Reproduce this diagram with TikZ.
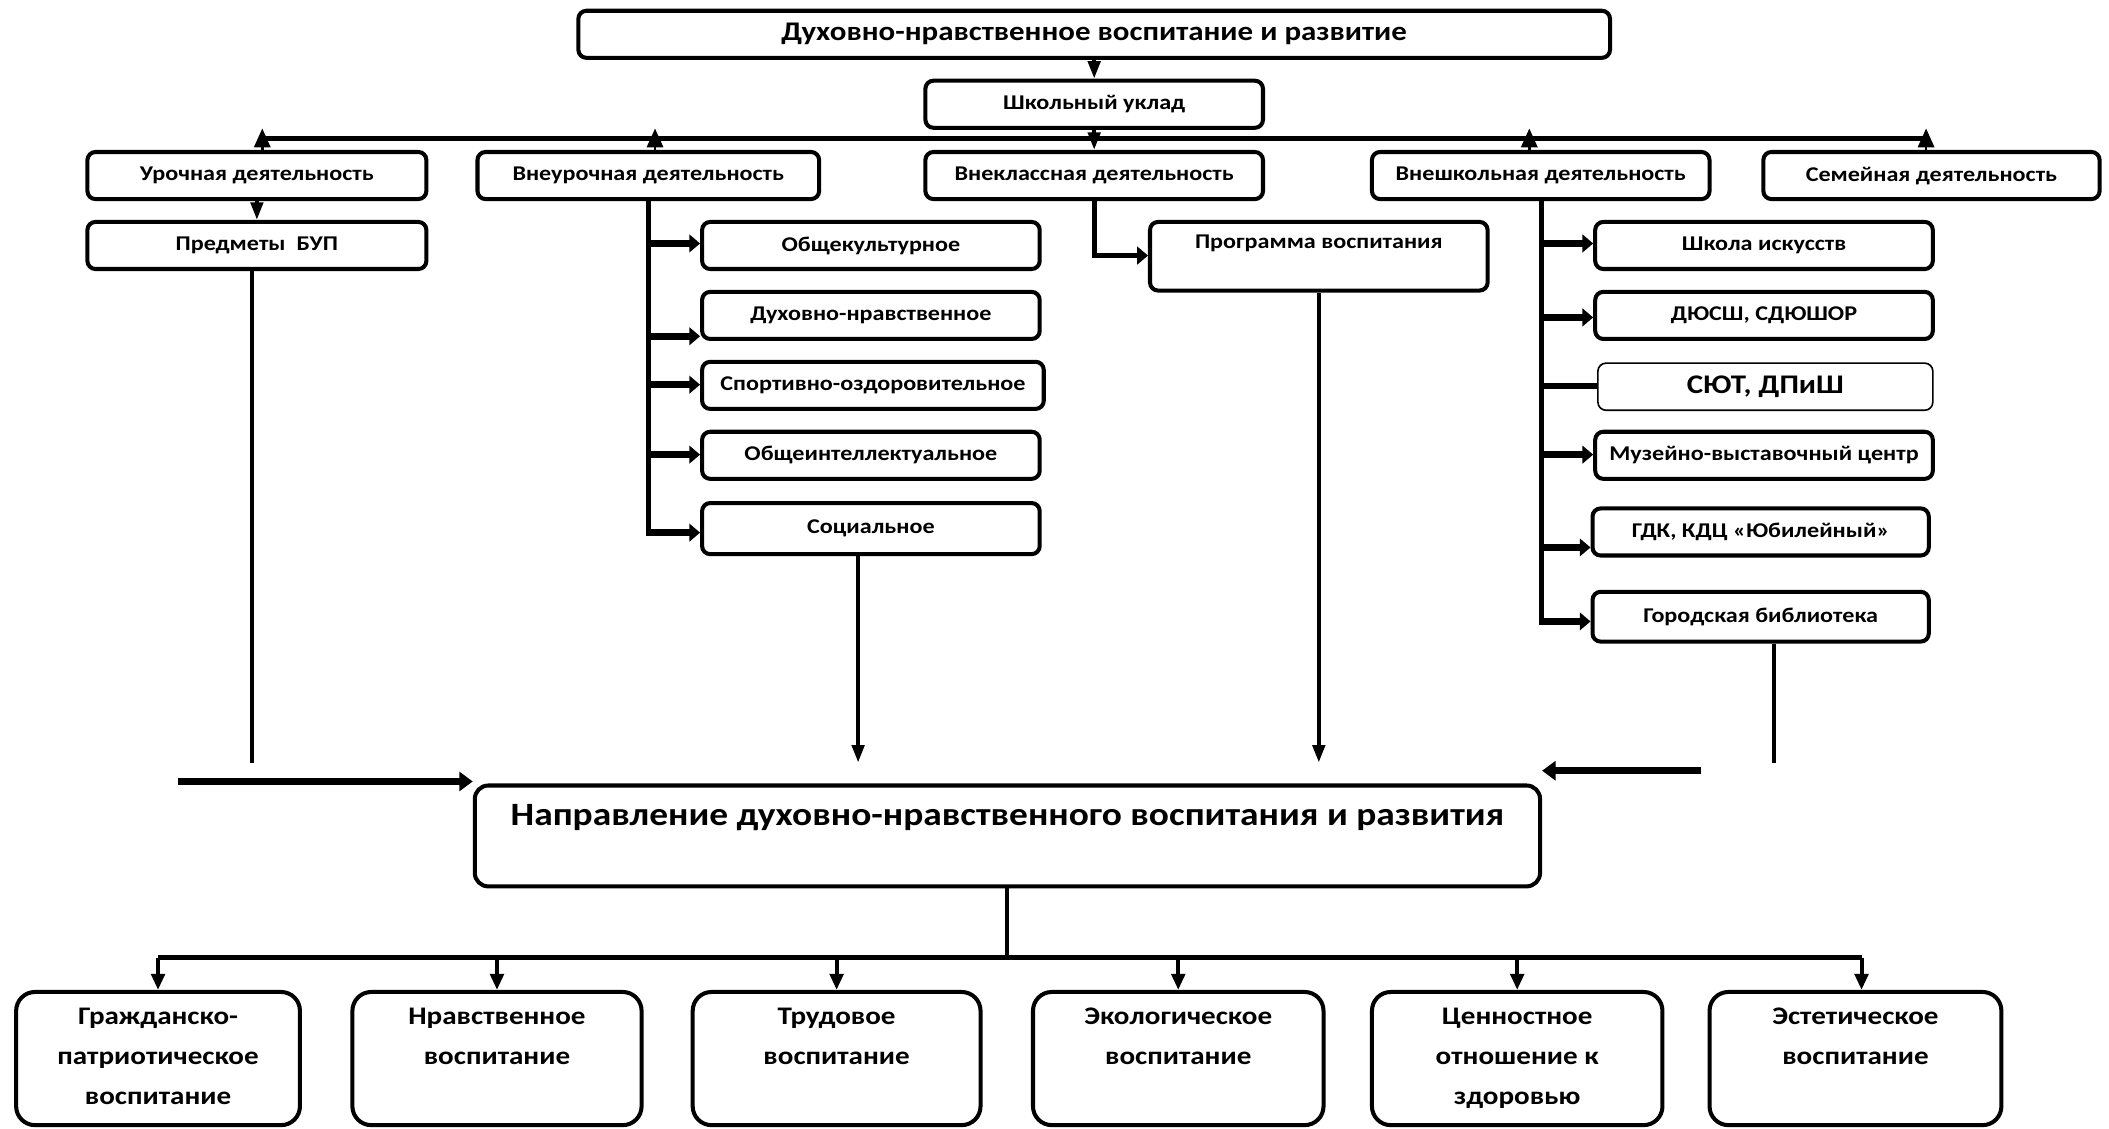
\documentclass[tikz,border=0pt]{standalone}
\usepackage{fontspec}
\setmainfont{Carlito}[FakeStretch=1.15]
\usetikzlibrary{arrows.meta}
\newcommand\fsm{\bfseries\fontsize{15.6}{19}\selectfont}
\newcommand\fti{\bfseries\fontsize{20}{23}\selectfont}
\newcommand\fbig{\bfseries\fontsize{24.2}{28}\selectfont}
\newcommand\fbot{\bfseries\fontsize{18.8}{30}\selectfont}
\newcommand\fsyut{\bfseries\fontsize{20}{23}\selectfont}
\tikzset{
  bx/.style={draw, line width=3pt, rounded corners=6pt, inner sep=1pt, font=\fsm, align=center},
  botbx/.style={bx, rounded corners=14pt, minimum height=99pt},
  toplbl/.style={anchor=north, inner sep=0pt, align=center},
  conn/.style={line width=3pt},
  tip/.style={-{Triangle[length=13pt,width=9pt]}},
  branch/.style={line width=5pt, -{Triangle[length=8pt,width=13pt]}},
  trunk/.style={line width=3.5pt},
  uptri/.style={line width=2pt, -{Triangle[length=14pt,width=12pt]}},
}
\begin{document}
\begin{tikzpicture}[x=1pt,y=-1pt]
\useasboundingbox (0,0) rectangle (1568,839);
% boxes
\node[bx, font=\fti, minimum width=767pt, minimum height=35pt] (top) at (813.5,25.5) {Духовно-нравственное воспитание и развитие};
\node[bx, minimum width=251pt, minimum height=35pt] (shk) at (813.5,77.5) {Школьный уклад};
\node[bx, minimum width=252pt, minimum height=35pt] (urok) at (191,130.5) {Урочная деятельность};
\node[bx, minimum width=254pt, minimum height=35pt] (vneur) at (482,130.5) {Внеурочная деятельность};
\node[bx, minimum width=251pt, minimum height=35pt] (vnekl) at (813.5,130.5) {Внеклассная деятельность};
\node[bx, minimum width=251pt, minimum height=35pt] (vnesh) at (1145.5,130.5) {Внешкольная деятельность};
\node[bx, minimum width=250pt, minimum height=35pt] (sem) at (1436,130.5) {Семейная деятельность};
\node[bx, minimum width=252pt, minimum height=35pt] (bup) at (191,182.5) {Предметы\ \ БУП};
% vneurochnaya children
\node[bx, minimum width=251pt, minimum height=35pt] (ok) at (647.5,182.5) {Общекультурное};
\node[bx, minimum width=251pt, minimum height=35pt] (dn) at (647.5,234.5) {Духовно-нравственное};
\node[bx, minimum width=254pt, minimum height=35pt] (so) at (649,286.5) {Спортивно-оздоровительное};
\node[bx, minimum width=251pt, minimum height=35pt] (oi) at (647.5,338.5) {Общеинтеллектуальное};
\node[bx, minimum width=251pt, minimum height=38pt] (soc) at (647.5,393) {Социальное};
% programma
\node[bx, minimum width=251pt, minimum height=51pt, label={[toplbl, font=\fsm, yshift=-11pt]north:Программа воспитания}] (prog) at (980.5,190.5) {};
% vneshkolnaya children
\node[bx, minimum width=251pt, minimum height=35pt] (shi) at (1311.5,182.5) {Школа искусств};
\node[bx, minimum width=251pt, minimum height=35pt] (dus) at (1311.5,234.5) {ДЮСШ, СДЮШОР};
\node[bx, line width=1.2pt, font=\fsyut, minimum width=249pt, minimum height=35pt] (syut) at (1312.5,287.5) {СЮТ, ДПиШ};
\node[bx, minimum width=251pt, minimum height=35pt] (muz) at (1311.5,338.5) {Музейно-выставочный центр};
\node[bx, minimum width=250pt, minimum height=35pt] (gdk) at (1309,395.5) {ГДК, КДЦ «Юбилейный»};
\node[bx, minimum width=250pt, minimum height=37pt] (bib) at (1309,458.5) {Городская библиотека};
% big box
\node[bx, rounded corners=10pt, minimum width=792pt, minimum height=75pt, label={[toplbl, font=\fbig, yshift=-15pt]north:Направление духовно-нравственного воспитания и развития}] (big) at (749,621.5) {};
% bottom boxes
\node[botbx, minimum width=211pt, label={[toplbl, font=\fbot, yshift=-13pt]north:Гражданско-\\патриотическое\\воспитание}] (b1) at (117.5,787) {};
\node[botbx, minimum width=215pt, label={[toplbl, font=\fbot, yshift=-13pt]north:Нравственное\\воспитание}] (b2) at (369.5,787) {};
\node[botbx, minimum width=214pt, label={[toplbl, font=\fbot, yshift=-13pt]north:Трудовое\\воспитание}] (b3) at (622,787) {};
\node[botbx, minimum width=216pt, label={[toplbl, font=\fbot, yshift=-13pt]north:Экологическое\\воспитание}] (b4) at (876,787) {};
\node[botbx, minimum width=216pt, label={[toplbl, font=\fbot, yshift=-13pt]north:Ценностное\\отношение к\\здоровью}] (b5) at (1128,787) {};
\node[botbx, minimum width=217pt, label={[toplbl, font=\fbot, yshift=-13pt]north:Эстетическое\\воспитание}] (b6) at (1379.5,787) {};

% top connectors
\draw[conn, tip] (top.south) -- (shk.north);
\coordinate (hL) at (195,103);
\coordinate (hR) at (1432,103);
\draw[line width=3.5pt] (hL) -- (hR);
\draw[conn, tip] (shk.south) -- (vnekl.north);
\draw[uptri] (urok.north -| hL) -- ++(0,-16);
\draw[uptri] (vneur.north -| 487,0) -- ++(0,-16);
\draw[uptri] (vnesh.north -| 1137,0) -- ++(0,-16);
\draw[uptri] (sem.north -| hR) -- ++(0,-16);
% urochnaya
\draw[conn, tip] (urok.south) -- (bup.north);
\coordinate (bupEnd) at (187,567);
\draw[conn] (bup.south -| bupEnd) -- (bupEnd);
\coordinate (inL) at (132,581);
\draw[line width=5pt, -{Triangle[length=10pt,width=14pt]}] (inL) -- (inL -| big.west);
% vneurochnaya
\coordinate (vT) at (482,398);
\draw[trunk] (vneur.south -| vT) -- (vT);
\draw[branch] (482,181) -- (ok.west |- 0,181);
\draw[branch] (482,250) -- (dn.west |- 0,250);
\draw[branch] (482,286) -- (so.west |- 0,286);
\draw[branch] (482,338) -- (oi.west |- 0,338);
\draw[branch] (480.25,396) -- (soc.west |- 0,396);
\coordinate (socEnd) at (638,567);
\draw[conn, tip] (soc.south -| socEnd) -- (socEnd);
% vneklassnaya
\draw[line width=4pt, -{Triangle[length=8pt,width=13pt]}] (vnekl.south) -- (813.5,190) -- (prog.west |- 0,190);
\coordinate (progEnd) at (980.5,567);
\draw[conn, tip] (prog.south) -- (progEnd);
% vneshkolnaya
\coordinate (wT) at (1146,464);
\draw[trunk] (vnesh.south -| wT) -- (wT);
\draw[branch] (1146,181) -- (shi.west |- 0,181);
\draw[branch] (1146,236) -- (dus.west |- 0,236);
\draw[line width=5pt] (1146,287) -- (syut.west |- 0,287);
\draw[branch] (1146,338) -- (muz.west |- 0,338);
\draw[branch] (1146,407) -- (gdk.west |- 0,407);
\draw[branch] (1144.25,462) -- (bib.west |- 0,462);
\coordinate (bibEnd) at (1319,567);
\draw[conn] (bib.south -| bibEnd) -- (bibEnd);
\coordinate (inR) at (1265,573);
\draw[line width=5pt, -{Triangle[length=10pt,width=14pt]}] (inR) -- (inR -| big.east);
% bottom distribution
\coordinate (hb) at (749,712);
\coordinate (hbR) at (1384,712);
\draw[conn] (big.south) -- (hb);
\draw[line width=4pt] (b1.north |- hb) -- (hbR);
\foreach \b in {b1,b2,b3,b4,b5}
  \draw[conn, -{Triangle[length=12pt,width=10pt]}] (\b.north |- hb) -- (\b.north);
\draw[conn, -{Triangle[length=12pt,width=10pt]}] (hbR) -- (hbR |- b6.north);
\end{tikzpicture}
\end{document}
